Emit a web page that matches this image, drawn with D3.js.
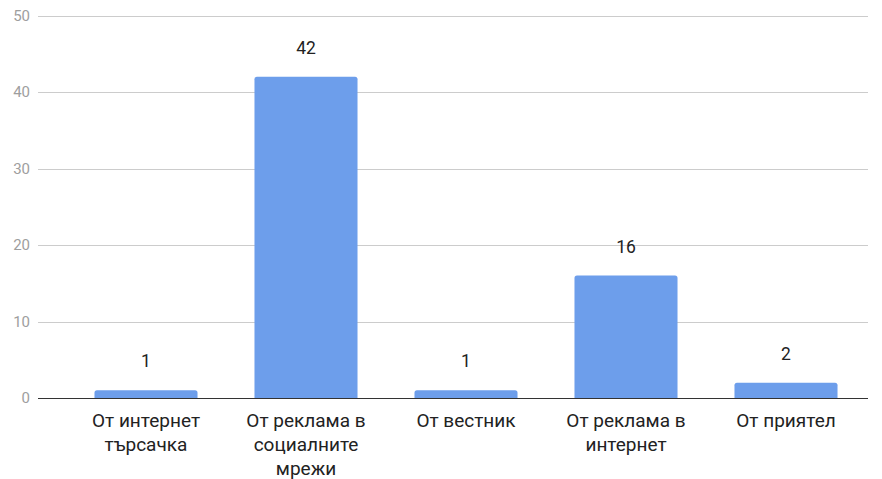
<!DOCTYPE html>
<html>
<head>
<meta charset="utf-8">
<script src="https://cdn.jsdelivr.net/npm/d3@7"></script>
<style>
  body { margin: 0; background: #fff; }
  svg { font-family: Roboto, "Noto Sans", sans-serif; }
</style>
</head>
<body>
<div class="chart"></div>
<script>
// categories + values
let categories = [
  ["От интернет", "търсачка"],
  ["От реклама в", "социалните", "мрежи"],
  ["От вестник"],
  ["От реклама в", "интернет"],
  ["От приятел"]
]
let values = [1, 42, 1, 16, 2]
let yTicks = [0, 10, 20, 30, 40, 50]

let w = 882
let h = 479

let svg = d3.select(".chart")
  .append("svg")
  .attr("width", w)
  .attr("height", h)

const xScale = d3.scaleBand()
  .domain(d3.range(categories.length))
  .range([66, 866])
  .paddingInner(0.356)
  .paddingOuter(0.178)

const yScale = d3.scaleLinear()
  .domain([0, 50])
  .range([398, 15.5])

// gridlines + y labels
let grid = svg.append("g")
grid.selectAll("line")
  .data(yTicks.filter(d => d > 0))
  .enter()
  .append("line")
  .attr("x1", 38).attr("x2", 868)
  .attr("y1", d => Math.round(yScale(d)) + 0.5)
  .attr("y2", d => Math.round(yScale(d)) + 0.5)
  .attr("stroke", "#cccccc")
  .attr("stroke-width", 1)

grid.selectAll("text")
  .data(yTicks)
  .enter()
  .append("text")
  .attr("x", 30)
  .attr("y", d => yScale(d) + 5)
  .attr("text-anchor", "end")
  .attr("font-size", 15)
  .attr("fill", "#9e9e9e")
  .text(d => d)

// bars with slightly rounded tops
let barPath = (i) => {
  let x0 = xScale(i), bw = xScale.bandwidth()
  let y0 = yScale(values[i]), yb = yScale(0)
  let r = Math.min(2.5, (yb - y0) / 2)
  return "M" + x0 + "," + yb +
    "V" + (y0 + r) +
    "Q" + x0 + "," + y0 + " " + (x0 + r) + "," + y0 +
    "H" + (x0 + bw - r) +
    "Q" + (x0 + bw) + "," + y0 + " " + (x0 + bw) + "," + (y0 + r) +
    "V" + yb + "Z"
}

svg.selectAll(".bar")
  .data(values)
  .enter()
  .append("path")
  .attr("class", "bar")
  .attr("d", (d, i) => barPath(i))
  .attr("fill", "#6d9eeb")

// value labels
svg.selectAll(".val")
  .data(values)
  .enter()
  .append("text")
  .attr("class", "val")
  .attr("x", (d, i) => xScale(i) + xScale.bandwidth() / 2)
  .attr("y", d => yScale(d) - 23)
  .attr("text-anchor", "middle")
  .attr("font-size", 17.5)
  .attr("fill", "#222")
  .text(d => d)

// baseline
svg.append("line")
  .attr("x1", 38).attr("x2", 868)
  .attr("y1", 398.5).attr("y2", 398.5)
  .attr("stroke", "#333")
  .attr("stroke-width", 1)

// category labels
let xAxis = d3.axisBottom(xScale).tickSize(0).tickFormat("")
svg.append("g")
  .attr("transform", "translate(0,398)")
  .call(xAxis)
  .call(g => g.select(".domain").remove())

svg.selectAll(".cat")
  .data(categories)
  .enter()
  .append("text")
  .attr("class", "cat")
  .attr("text-anchor", "middle")
  .attr("font-size", 19)
  .attr("fill", "#222")
  .selectAll("tspan")
  .data((d, i) => d.map(t => ({ t: t, i: i })))
  .enter()
  .append("tspan")
  .attr("x", d => xScale(d.i) + xScale.bandwidth() / 2)
  .attr("y", (d, j) => 427 + j * 24)
  .text(d => d.t)
</script>
</body>
</html>
